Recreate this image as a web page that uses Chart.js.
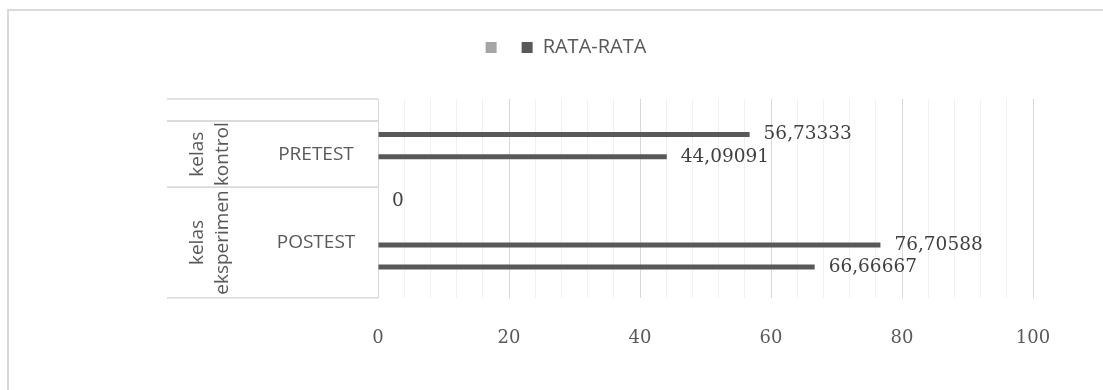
<!DOCTYPE html>
<html><head><meta charset="utf-8">
<script src="https://cdn.jsdelivr.net/npm/chart.js@4.4.1/dist/chart.umd.min.js"></script>
<style>html,body{margin:0;padding:0;background:#fff;overflow:hidden}#wrap{width:1103px;height:390px;position:relative}</style>
</head><body><div id="wrap"><canvas id="c" width="1103" height="390"></canvas></div>
<script>
// ---- data ----
const rowLabels = ['', '', '', '', '', '', '', '', ''];
const seriesBlank = [null, null, null, null, null, null, null, null, null];
const seriesRataRata = [null, 56.73333, 44.09091, null, 0, null, 76.70588, 66.66667, null];
const seriesNames = ['', 'RATA-RATA'];
const groupOuter = [[], ['kelas', 'kontrol'], ['kelas', 'eksperimen']];
const groupInner = ['', 'PRETEST', 'POSTEST'];
const groupStart = [0, 1, 4];
const groupEnd = [0, 3, 8];
const xMin = 0, xMax = 100, xMinorStep = 4, xMajorStep = 20;

const SANS = "'Open Sans', 'Noto Sans', sans-serif";
const SERIF = "'DejaVu Serif', serif";

const tablePlugin = {
  id: 'table',
  beforeDraw(chart) {
    const ctx = chart.ctx;
    ctx.save();
    ctx.fillStyle = '#fff';
    ctx.fillRect(0, 0, chart.width, chart.height);
    ctx.strokeStyle = '#d9d9d9';
    ctx.lineWidth = 2;
    ctx.strokeRect(8, 10, 1300, 600);
    ctx.restore();
  },
  afterDraw(chart) {
    const ctx = chart.ctx, y = chart.scales.y, area = chart.chartArea;
    const half = (y.getPixelForValue(1) - y.getPixelForValue(0)) / 2;
    const left = 167;
    ctx.save();
    ctx.strokeStyle = '#d9d9d9';
    ctx.lineWidth = 1.5;
    ctx.fillStyle = '#595959';
    ctx.font = '19px ' + SANS;
    ctx.textBaseline = 'middle';
    ctx.textAlign = 'center';
    for (let i = 0; i < groupInner.length; i++) {
      const top = y.getPixelForValue(groupStart[i]) - half;
      const bot = y.getPixelForValue(groupEnd[i]) + half;
      ctx.beginPath();
      ctx.moveTo(left, top); ctx.lineTo(area.left, top);
      ctx.moveTo(left, bot); ctx.lineTo(area.left, bot);
      ctx.stroke();
      const cy = (top + bot) / 2;
      if (groupInner[i]) ctx.fillText(groupInner[i], 316, cy);
      const lines = groupOuter[i];
      if (lines.length) {
        ctx.save();
        ctx.translate(210.5, cy);
        ctx.rotate(-Math.PI / 2);
        const lh = 25;
        lines.forEach((t, k) => {
          ctx.fillText(t, 0, (k - (lines.length - 1) / 2) * lh);
        });
        ctx.restore();
      }
    }
    ctx.restore();
  },
  afterDatasetsDraw(chart) {
    const ctx = chart.ctx;
    const meta = chart.getDatasetMeta(1);
    ctx.save();
    ctx.fillStyle = '#404040';
    ctx.font = '18.5px ' + SERIF;
    ctx.textBaseline = 'middle';
    ctx.textAlign = 'left';
    meta.data.forEach((bar, i) => {
      const v = seriesRataRata[i];
      if (v === null || v === undefined) return;
      ctx.fillText(String(v).replace('.', ','), bar.x + 14, bar.y);
    });
    ctx.restore();
  }
};

new Chart(document.getElementById('c'), {
  type: 'bar',
  data: {
    labels: rowLabels,
    datasets: [
      { label: seriesNames[0], data: seriesBlank, backgroundColor: '#a5a5a5', borderWidth: 0, barThickness: 5, inflateAmount: 0 },
      { label: seriesNames[1], data: seriesRataRata, backgroundColor: '#595959', borderWidth: 0, barThickness: 5, inflateAmount: 0 }
    ]
  },
  options: {
    indexAxis: 'y',
    responsive: false,
    animation: false,
    devicePixelRatio: 1,
    layout: { padding: { left: 99, right: 70, top: 22.5, bottom: 10.7 } },
    scales: {
      x: {
        type: 'linear', min: xMin, max: xMax,
        ticks: {
          stepSize: xMinorStep, autoSkip: false, maxRotation: 0, minRotation: 0,
          padding: 30, color: '#595959',
          font: { family: SERIF, size: 18 },
          callback: (v) => (Math.abs(v % xMajorStep) < 1e-6 ? String(v) : '')
        },
        grid: {
          drawTicks: false,
          lineWidth: 1,
          color: (c) => (c.tick && Math.abs(c.tick.value % xMajorStep) < 1e-6 ? '#d9d9d9' : '#f0f0f0')
        },
        border: { display: false }
      },
      y: {
        display: true,
        ticks: { display: false },
        grid: { display: false },
        border: { display: false },
        afterFit: (s) => { s.width = 279; }
      }
    },
    plugins: {
      legend: {
        position: 'top', weight: 1000,
        labels: { boxWidth: 11, boxHeight: 11, padding: 15, color: '#595959', font: { family: SANS, size: 20 } }
      },
      title: { display: true, text: '', weight: 500, font: { size: 1, lineHeight: 1 }, padding: { top: 30.5, bottom: 0 } },
      tooltip: { enabled: false }
    }
  },
  plugins: [tablePlugin]
});
</script></body></html>
